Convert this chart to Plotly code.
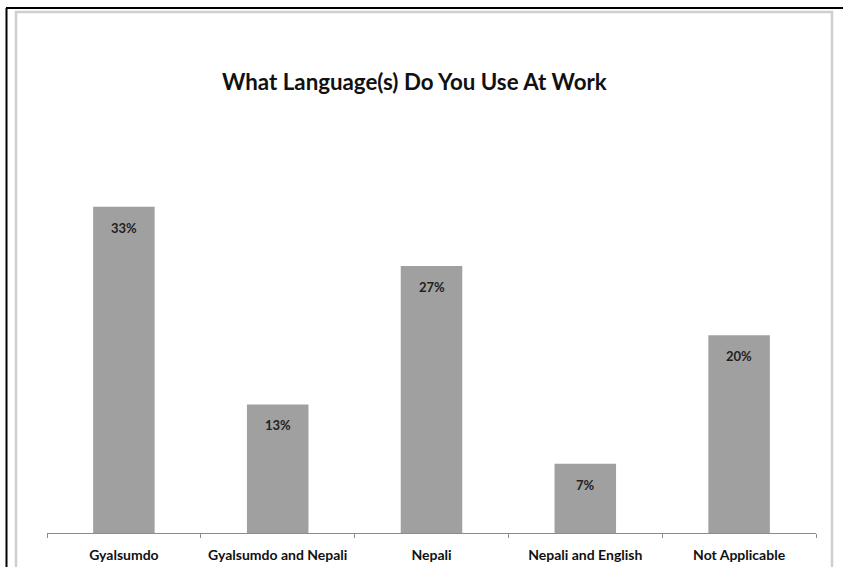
import plotly.graph_objects as go

categories = ["Gyalsumdo", "Gyalsumdo and Nepali", "Nepali", "Nepali and English", "Not Applicable"]
values = [33, 13, 27, 7, 20]
labels = [f"{v}%" for v in values]
title_text = "What Language(s) Do You Use At Work"

W, H = 843, 567
L, R, T, B = 47, 27, 187, 34
pw, ph = W - L - R, H - T - B
FONT = "Lato, Carlito, sans-serif"

def px(x):
    return (x - L) / pw

def py(y):
    return (H - B - y) / ph

fig = go.Figure(go.Bar(
    x=categories, y=values, marker=dict(color="#a0a0a0", line=dict(width=0)),
    hoverinfo="skip"
))

for c, v, t in zip(categories, values, labels):
    fig.add_annotation(x=c, y=v, text=f"<b>{t}</b>", showarrow=False, yshift=-21,
                       font=dict(family=FONT, size=13, color="#222222"))

shapes = [
    dict(type="rect", xref="paper", yref="paper", x0=px(16), x1=px(832), y0=py(590), y1=py(12),
         line=dict(color="#cfcfcf", width=2.5), layer="below"),
    dict(type="line", xref="paper", yref="paper", x0=px(6), x1=px(843), y0=py(8), y1=py(8),
         line=dict(color="black", width=2)),
    dict(type="line", xref="paper", yref="paper", x0=px(6.5), x1=px(6.5), y0=py(8), y1=py(570),
         line=dict(color="black", width=2)),
]

fig.update_layout(
    width=W, height=H,
    margin=dict(l=L, r=R, t=T, b=B, pad=0, autoexpand=False),
    paper_bgcolor="white", plot_bgcolor="white",
    bargap=0.6,
    showlegend=False,
    shapes=shapes,
    title=dict(text=f"<b>{title_text}</b>", x=px(425), xanchor="center", y=1 - 82 / H, yanchor="middle",
               font=dict(family=FONT, size=22.3, color="#111111")),
    xaxis=dict(showline=True, linecolor="#8c8c8c", linewidth=1, ticks="outside", tickson="boundaries",
               ticklen=4, tickcolor="#8c8c8c", showgrid=False, fixedrange=True, automargin=False,
               ticklabelstandoff=9,
               tickfont=dict(family=FONT, size=14, color="#111111"),
               tickprefix="<b>", ticksuffix="</b>"),
    yaxis=dict(range=[0, 35], visible=False, showgrid=False, fixedrange=True),
)

fig.write_html("out.html", config={"displayModeBar": False},
               post_script="document.body.style.margin='0';document.body.style.overflow='hidden';")
